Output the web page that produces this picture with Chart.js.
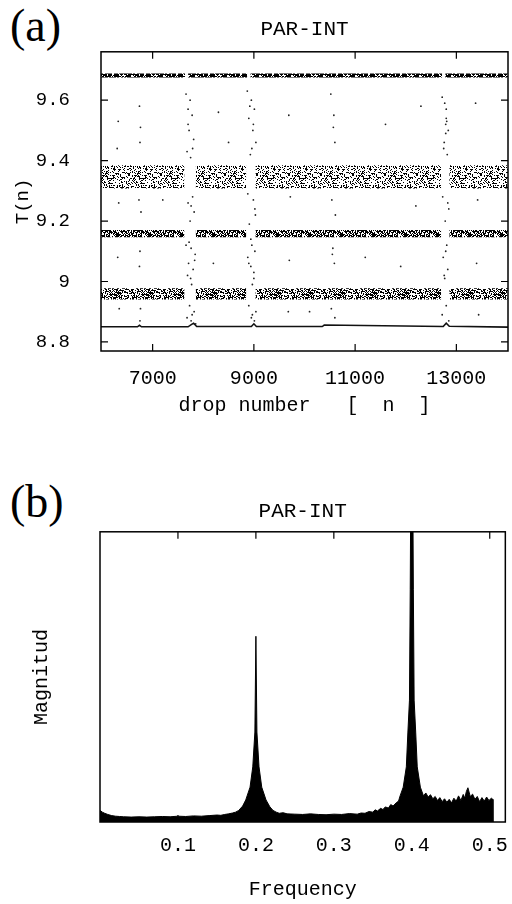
<!DOCTYPE html>
<html>
<head>
<meta charset="utf-8">
<script src="https://cdn.jsdelivr.net/npm/chart.js@4.4.0/dist/chart.umd.min.js"></script>
<style>
  body { margin: 0; background: #fff; width: 512px; height: 904px; position: relative; overflow: hidden; }
  .panel { position: absolute; left: 0; width: 512px; }
  .tag { position: absolute; font-family: "Liberation Serif", serif; font-size: 46px; line-height: 1; color: #000; }
</style>
</head>
<body>
<div class="tag" style="left:10px; top:3px;">(a)</div>
<div class="panel" style="top:0; height:440px;"><canvas id="chart-a"></canvas></div>
<div class="tag" style="left:10px; top:479px;">(b)</div>
<div class="panel" style="top:440px; height:464px;"><canvas id="chart-b"></canvas></div>
<script>
// ---- panel (a): drop interval T(n) vs drop number ----
const dropTicks = [7000, 9000, 11000, 13000];
const tTicks = [8.8, 9.0, 9.2, 9.4, 9.6];

// bands of the attractor (T low / high edge), broken where the transients sit
const bandLow = [9.675, 9.308, 9.146, 8.940];
const bandHigh = [9.688, 9.385, 9.170, 8.978];
const bandSegments = [[5980, 7630], [7850, 8850], [9030, 12700], [12860, 14020]];
const topSegments = [[5980, 7640], [7700, 8870], [8930, 12720], [12780, 14020]];

// lowest level, almost a line
const baseDrop = [5980, 6700, 6740, 6780, 7700, 7770, 7810, 7870, 8950, 9000, 9050, 10350, 10390, 12740, 12800, 12860, 14020];
const baseT = [8.850, 8.850, 8.855, 8.850, 8.850, 8.858, 8.862, 8.851, 8.851, 8.860, 8.851, 8.851, 8.856, 8.851, 8.862, 8.852, 8.849];

// scattered transient points between the bands
const strayDrop = [
  6320, 6330, 6310, 6340, 6300,
  6740, 6760, 6750, 6730, 6770, 6750, 6740, 6760, 6750,
  7660, 7700, 7780, 7720, 7810, 7680, 7750, 7790, 7700, 7820, 7740, 7660, 7760, 7840, 7710, 7800, 7690, 7770, 7730, 7820, 7680, 7760, 7850,
  7740, 7700, 7790, 7760, 7720, 7830, 7750, 7780,
  8870, 8950, 9010, 8900, 8980, 9040, 8930, 8880, 8990, 9030, 8910, 8960, 9020, 8880, 8940, 9000, 8970, 8900, 9040, 8950, 9010,
  8920, 8990, 8960, 9020, 8940, 8900, 9000, 8970,
  9690, 9720, 9700, 9680,
  10520, 10580, 10600, 10540, 10610, 10560, 10590, 10530, 10600, 10570, 10550,
  12720, 12800, 12840, 12790, 12760, 12820, 12730, 12850, 12780, 12810, 12740, 12830, 12770, 12800, 12720, 12850, 12790, 12800,
  12770, 12810, 12750, 12830, 12790, 12760,
  13380, 13420, 13400, 13440,
  8300, 8500, 11600, 12200, 11200, 8200, 10100, 12300, 7200, 11900
];
const strayT = [
  9.53, 9.26, 9.08, 8.91, 9.44,
  9.58, 9.51, 9.46, 9.27, 9.23, 9.10, 9.05, 8.91, 8.87,
  9.62, 9.57, 9.55, 9.50, 9.47, 9.43, 9.41, 9.28, 9.26, 9.23, 9.20, 9.12, 9.11, 9.09, 9.06, 9.04, 9.02, 8.99, 8.92, 8.90, 8.88, 8.87, 8.86,
  9.60, 9.52, 9.44, 9.25, 9.13, 9.07, 9.01, 8.89,
  9.63, 9.60, 9.57, 9.54, 9.50, 9.46, 9.42, 9.29, 9.27, 9.22, 9.19, 9.12, 9.10, 9.08, 9.05, 9.03, 8.99, 8.92, 8.90, 8.88, 8.87,
  9.58, 9.52, 9.44, 9.24, 9.14, 9.06, 9.01, 8.89,
  9.55, 9.28, 9.07, 8.90,
  9.62, 9.55, 9.46, 9.27, 9.22, 9.11, 9.06, 8.91, 8.88, 9.51, 9.09,
  9.61, 9.57, 9.50, 9.49, 9.46, 9.42, 9.28, 9.24, 9.20, 9.12, 9.08, 9.04, 9.01, 8.92, 8.89, 8.87, 9.52, 9.54,
  9.59, 9.53, 9.44, 9.26, 9.10, 9.02,
  9.59, 9.27, 9.06, 8.89,
  9.56, 9.46, 9.52, 9.25, 9.08, 9.06, 8.90, 9.58, 9.27, 9.05
];

// ---- panel (b): power spectrum ----
const freqTicks = [0.1, 0.2, 0.3, 0.4, 0.5];
const specFreq = [
  0.000, 0.003, 0.006, 0.010, 0.015, 0.020, 0.025, 0.030, 0.040, 0.050, 0.060, 0.070, 0.080, 0.090,
  0.100, 0.110, 0.120, 0.130, 0.140, 0.150, 0.155, 0.160, 0.165, 0.170, 0.174, 0.178, 0.183, 0.187,
  0.1925, 0.196, 0.1987, 0.200, 0.2013, 0.204, 0.2075, 0.213, 0.218, 0.222, 0.226, 0.230, 0.235, 0.240,
  0.250, 0.260, 0.270, 0.280, 0.290, 0.300, 0.310, 0.320, 0.330, 0.335, 0.340, 0.345, 0.350, 0.353,
  0.356, 0.360, 0.363, 0.366, 0.370, 0.373, 0.376, 0.380, 0.383, 0.385, 0.389, 0.393, 0.395, 0.397,
  0.398, 0.399, 0.401, 0.402, 0.403, 0.405, 0.407, 0.411, 0.415, 0.418, 0.421, 0.424, 0.427, 0.430,
  0.433, 0.436, 0.439, 0.442, 0.445, 0.448, 0.451, 0.454, 0.457, 0.460, 0.463, 0.466, 0.468, 0.470,
  0.472, 0.475, 0.478, 0.481, 0.484, 0.487, 0.490, 0.493, 0.496, 0.499, 0.502, 0.504, 0.5041
];
const specMag = [
  0.040, 0.034, 0.030, 0.026, 0.022, 0.020, 0.019, 0.018, 0.017, 0.018, 0.017, 0.018, 0.019, 0.018,
  0.020, 0.019, 0.021, 0.020, 0.022, 0.024, 0.023, 0.026, 0.028, 0.031, 0.034, 0.040, 0.055, 0.076,
  0.120, 0.190, 0.310, 0.640, 0.310, 0.190, 0.120, 0.076, 0.052, 0.040, 0.034, 0.030, 0.032, 0.028,
  0.027, 0.026, 0.028, 0.026, 0.025, 0.027, 0.026, 0.029, 0.027, 0.031, 0.030, 0.036, 0.034, 0.042,
  0.038, 0.047, 0.043, 0.052, 0.048, 0.060, 0.055, 0.066, 0.072, 0.090, 0.120, 0.190, 0.310, 0.420,
  0.800, 1.300, 1.300, 0.800, 0.420, 0.310, 0.190, 0.120, 0.090, 0.100, 0.086, 0.094, 0.080, 0.088,
  0.074, 0.084, 0.070, 0.080, 0.068, 0.078, 0.066, 0.082, 0.072, 0.090, 0.074, 0.095, 0.082, 0.105,
  0.118, 0.088, 0.096, 0.078, 0.088, 0.070, 0.084, 0.072, 0.086, 0.074, 0.082, 0.078, 0.000
];

const FONT = '"Liberation Mono", "Courier New", monospace';

// speckled fill so the bands look like dense point clouds
function speckle(density, seed) {
  const n = 32;
  const c = document.createElement('canvas');
  c.width = n; c.height = n;
  const g = c.getContext('2d');
  g.fillStyle = '#000';
  for (let i = 0; i < n; i++) {
    for (let j = 0; j < n; j++) {
      let h = Math.imul(i + 1, 73856093) ^ Math.imul(j + 1, 19349663) ^ Math.imul(seed, 83492791);
      h = Math.imul(h ^ (h >>> 15), 2246822507);
      h = Math.imul(h ^ (h >>> 13), 3266489909);
      h = (h ^ (h >>> 16)) >>> 0;
      if (h % 100 < density) g.fillRect(i, j, 1, 1);
    }
  }
  return g.createPattern(c, 'repeat');
}

// box + inward tick marks on all sides
const framePlugin = {
  id: 'frame',
  afterDatasetsDraw(chart, args, opts) {
    const { ctx, chartArea: a, scales } = chart;
    ctx.save();
    ctx.strokeStyle = '#000';
    ctx.lineWidth = 1.5;
    ctx.strokeRect(a.left, a.top, a.right - a.left, a.bottom - a.top);
    ctx.lineWidth = 1.2;
    ctx.beginPath();
    scales.x.ticks.forEach(t => {
      const px = scales.x.getPixelForValue(t.value);
      ctx.moveTo(px, a.bottom); ctx.lineTo(px, a.bottom - 7);
      ctx.moveTo(px, a.top); ctx.lineTo(px, a.top + 7);
    });
    if (opts.yTicks) {
      scales.y.ticks.forEach(t => {
        const py = scales.y.getPixelForValue(t.value);
        ctx.moveTo(a.left, py); ctx.lineTo(a.left + 7, py);
        ctx.moveTo(a.right, py); ctx.lineTo(a.right - 7, py);
      });
    }
    ctx.stroke();
    ctx.restore();
  }
};

function bandData(segments, y) {
  const pts = [];
  segments.forEach(([s, e]) => {
    pts.push({ x: s, y: y }, { x: e, y: y }, { x: e + 1, y: null });
  });
  return pts;
}

const bandShade = [80, 30, 62, 50];
const bandDatasets = bandLow.map((lo, i) => ({
  type: 'line',
  data: bandData(i === 0 ? topSegments : bandSegments, bandHigh[i]),
  fill: { value: lo },
  backgroundColor: speckle(bandShade[i], i + 1),
  borderWidth: 0,
  pointRadius: 0,
  spanGaps: false
}));

Chart.defaults.font.family = FONT;
Chart.defaults.color = '#000';

new Chart(document.getElementById('chart-a'), {
  type: 'scatter',
  data: {
    datasets: [
      ...bandDatasets,
      {
        type: 'line',
        data: baseDrop.map((d, i) => ({ x: d, y: baseT[i] })),
        borderColor: '#111',
        borderWidth: 1.6,
        pointRadius: 0,
        fill: false
      },
      {
        data: strayDrop.map((d, i) => ({ x: d, y: strayT[i] })),
        backgroundColor: '#222',
        pointRadius: 0.9,
        pointBorderWidth: 0
      }
    ]
  },
  options: {
    responsive: true,
    maintainAspectRatio: false,
    animation: false,
    layout: { padding: { top: 0, right: 2, left: 0, bottom: 0 } },
    plugins: {
      legend: { display: false },
      tooltip: { enabled: false },
      title: {
        display: true,
        text: 'PAR-INT',
        fullSize: false,
        font: { size: 21, weight: 'normal', lineHeight: 1.2 },
        padding: { top: 16.8, bottom: 9.8 }
      },
      frame: { yTicks: true }
    },
    scales: {
      x: {
        type: 'linear',
        min: 5980,
        max: 14020,
        grid: { display: false },
        border: { display: false },
        afterBuildTicks: s => { s.ticks = dropTicks.map(v => ({ value: v })); },
        afterFit: s => { s.height = 89; },
        ticks: { font: { size: 20 }, padding: 8, maxRotation: 0, callback: v => String(v) },
        title: { display: true, text: 'drop number   [  n  ]', font: { size: 20 }, padding: { top: 0, bottom: 22 } }
      },
      y: {
        min: 8.77,
        max: 9.76,
        grid: { display: false },
        border: { display: false },
        afterBuildTicks: s => { s.ticks = tTicks.map(v => ({ value: v })); },
        afterFit: s => { s.width = 101; },
        ticks: { font: { size: 19 }, padding: 23, callback: v => String(+v.toFixed(1)) },
        title: { display: true, text: 'T(n)', font: { size: 19 }, padding: { top: 12, bottom: 0 } }
      }
    }
  },
  plugins: [framePlugin]
});

new Chart(document.getElementById('chart-b'), {
  type: 'line',
  data: {
    datasets: [{
      data: specFreq.map((f, i) => ({ x: f, y: specMag[i] })),
      borderColor: '#000',
      backgroundColor: '#000',
      borderWidth: 1,
      pointRadius: 0,
      fill: 'origin',
      tension: 0
    }]
  },
  options: {
    responsive: true,
    maintainAspectRatio: false,
    animation: false,
    layout: { padding: { top: 0, right: 3, left: 0, bottom: 0 } },
    plugins: {
      legend: { display: false },
      tooltip: { enabled: false },
      title: {
        display: true,
        text: 'PAR-INT',
        fullSize: false,
        font: { size: 21, weight: 'normal', lineHeight: 1.2 },
        padding: { top: 58.8, bottom: 7.8 }
      },
      frame: { yTicks: false }
    },
    scales: {
      x: {
        type: 'linear',
        min: 0,
        max: 0.52,
        grid: { display: false },
        border: { display: false },
        afterBuildTicks: s => { s.ticks = freqTicks.map(v => ({ value: v })); },
        afterFit: s => { s.height = 82; },
        ticks: { font: { size: 20 }, padding: 4, maxRotation: 0, callback: v => v.toFixed(1) },
        title: { display: true, text: 'Frequency', font: { size: 20 }, padding: { top: 0, bottom: 2 } }
      },
      y: {
        min: 0,
        max: 1,
        grid: { display: false },
        border: { display: false },
        afterFit: s => { s.width = 100; },
        ticks: { display: false },
        title: { display: true, text: 'Magnitud', font: { size: 20 }, padding: { top: 30, bottom: 0 } }
      }
    }
  },
  plugins: [framePlugin]
});
</script>
</body>
</html>
